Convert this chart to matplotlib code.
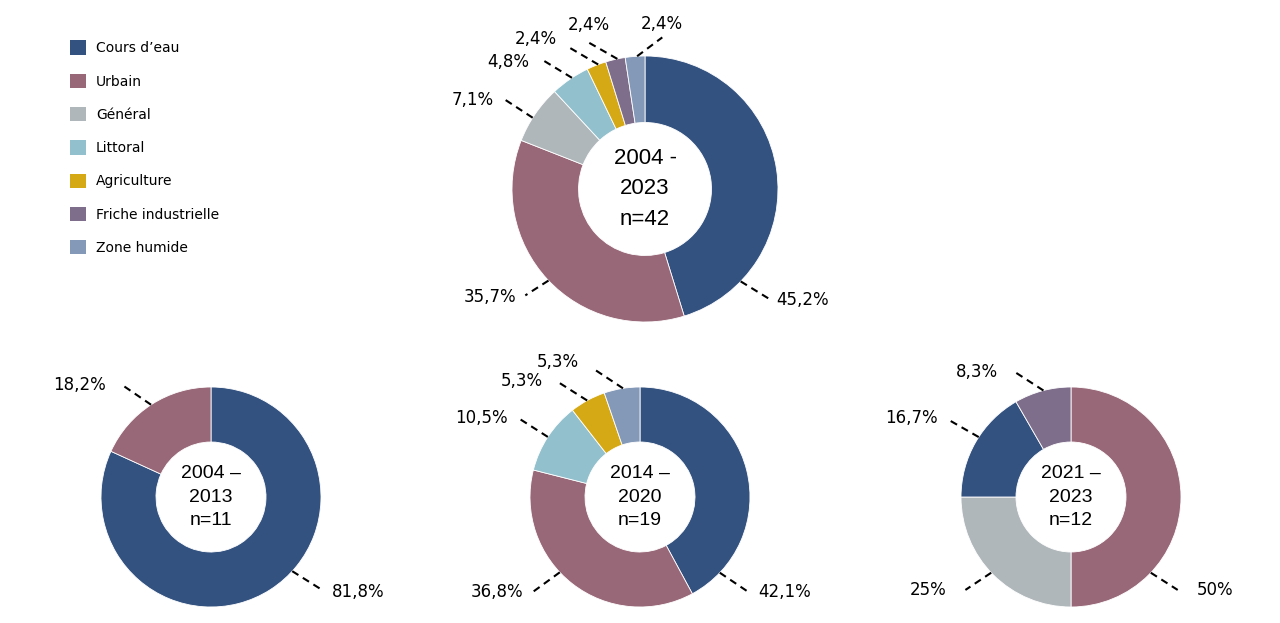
import numpy as np
import matplotlib.pyplot as plt
from matplotlib.patches import Patch

# categories and colours
categories = ["Cours d’eau", "Urbain", "Général", "Littoral", "Agriculture",
              "Friche industrielle", "Zone humide"]
cat_colors = {
    "Cours d’eau": "#335280",
    "Urbain": "#986778",
    "Général": "#b0b7bb",
    "Littoral": "#92c0cd",
    "Agriculture": "#d5a915",
    "Friche industrielle": "#7f6e8b",
    "Zone humide": "#8499b8",
}

# counts per period (clockwise from 12 o'clock)
total_cats = ["Cours d’eau", "Urbain", "Général", "Littoral", "Agriculture",
              "Friche industrielle", "Zone humide"]
total_counts = [19, 15, 3, 2, 1, 1, 1]

p1_cats = ["Cours d’eau", "Urbain"]
p1_counts = [9, 2]

p2_cats = ["Cours d’eau", "Urbain", "Littoral", "Agriculture", "Zone humide"]
p2_counts = [8, 7, 2, 1, 1]

p3_cats = ["Urbain", "Général", "Cours d’eau", "Friche industrielle"]
p3_counts = [6, 3, 2, 1]

W, H = 1280, 623
fig = plt.figure(figsize=(W / 100, H / 100), dpi=100)
fig.patch.set_facecolor("white")

LABEL_FONT = "DejaVu Sans"
CENTER_FONT = "Liberation Sans"


def fmt_pct(count, total):
    pct = round(100 * count / total, 1)
    if pct == int(pct):
        return f"{int(pct)}%"
    return f"{pct:.1f}".replace(".", ",") + "%"


def draw_donut(cx, cy, radius, cats, counts, period, leaders, center_size, spacing):
    # leaders: (rim angle, line end in radius units, text offset in px, side)
    half = 230
    ax = fig.add_axes([(cx - half) / W, 1 - (cy + half) / H, 2 * half / W, 2 * half / H])
    ax.pie(counts, colors=[cat_colors[c] for c in cats], startangle=90,
           counterclock=False, radius=1,
           wedgeprops=dict(width=0.5, edgecolor="white", linewidth=0.6))
    lim = half / radius
    ax.set_xlim(-lim, lim)
    ax.set_ylim(-lim, lim)
    ax.set_aspect("equal")
    ax.axis("off")

    total = sum(counts)
    for count, (ang, end, off, side) in zip(counts, leaders):
        a = np.radians(ang)
        ax.plot([np.cos(a), end[0]], [np.sin(a), end[1]], color="black", lw=1.5,
                linestyle=(0, (3.5, 2.5)), clip_on=False, dash_capstyle="butt")
        ha = {"l": "left", "r": "right", "c": "center"}[side]
        ax.annotate(fmt_pct(count, total), xy=end, xytext=off,
                    textcoords="offset pixels", ha=ha, va="center",
                    fontsize=12, family=LABEL_FONT, annotation_clip=False)

    ax.text(0, 0, f"{period}\nn={total}", ha="center", va="center",
            fontsize=center_size, family=CENTER_FONT, linespacing=spacing)


draw_donut(645, 189, 133, total_cats, total_counts, "2004 -\n2023",
           [(-44, (0.94, -0.83), (6, -1), "l"),
            (-136.5, (-0.90, -0.80), (-9, -2), "r"),
            (147.6, (-1.05, 0.67), (-12, 0), "r"),
            (123.3, (-0.77, 0.97), (-13, -2), "r"),
            (110.6, (-0.58, 1.07), (-11, 8), "r"),
            (102, (-0.43, 1.105), (1, 17), "c"),
            (93.4, (0.13, 1.14), (0, 13), "c")],
           16, 1.6)

draw_donut(211, 497, 110, p1_cats, p1_counts, "2004 –\n2013",
           [(-42.4, (1.01, -0.845), (10, -2), "l"),
            (123, (-0.81, 1.02), (-16, 0), "r")],
           14, 1.52)

draw_donut(640, 497, 110, p2_cats, p2_counts, "2014 –\n2020",
           [(-43.5, (0.98, -0.86), (10, 0), "l"),
            (-136.8, (-0.97, -0.86), (-10, 0), "r"),
            (146.9, (-1.11, 0.72), (-10, 0), "r"),
            (118.7, (-0.745, 1.045), (-15, 1), "r"),
            (98.9, (-0.43, 1.17), (-14, 6), "r")],
           14, 1.52)

draw_donut(1071, 497, 110, p3_cats, p3_counts, "2021 –\n2023",
           [(-43.5, (0.97, -0.845), (19, 0), "l"),
            (-136.5, (-0.96, -0.845), (-19, 0), "r"),
            (147, (-1.11, 0.70), (-11, 2), "r"),
            (104.5, (-0.51, 1.136), (-17, 0), "r")],
           14, 1.52)

handles = [Patch(facecolor=cat_colors[c], edgecolor="none") for c in categories]
fig.legend(handles, categories, loc="upper left", bbox_to_anchor=(57 / W, 1 - 28 / H),
           frameon=False, handlelength=1.2, handleheight=1.2,
           handletextpad=0.7, labelspacing=1.33, prop={"family": LABEL_FONT, "size": 10})

fig.savefig("out.png", dpi=100, facecolor="white")
